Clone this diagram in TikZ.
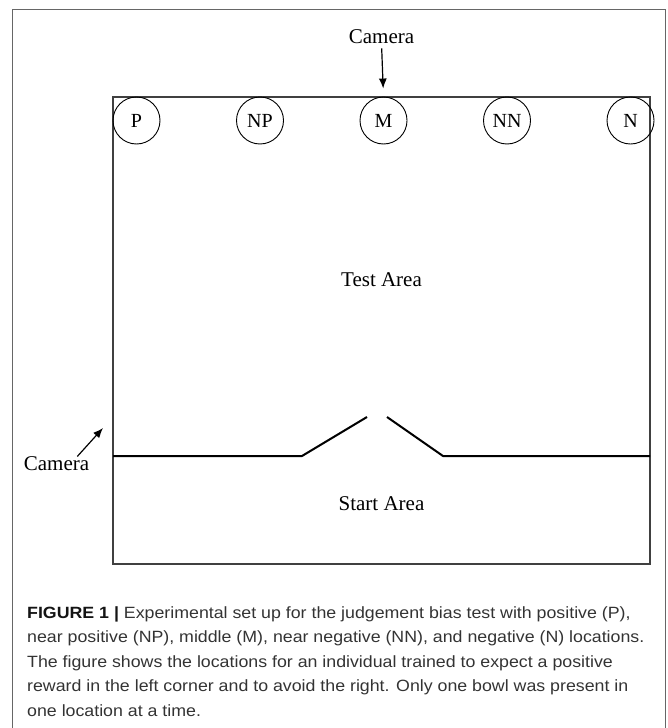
\documentclass[tikz,border=0pt]{standalone}
\usepackage{fontspec}
\setmainfont{Liberation Serif}
\newfontfamily\capfont[FakeStretch=1.09]{Liberation Sans}
\usetikzlibrary{positioning, arrows.meta}

\begin{document}
\begin{tikzpicture}[x=1pt, y=-1pt,
    bowl/.style={draw, circle, line width=0.9pt, minimum size=47pt, inner sep=0pt,
        font=\fontsize{20}{20}\selectfont},
    areatext/.style={inner sep=0pt, font=\fontsize{21}{21}\selectfont},
    wall/.style={draw=black!75, line width=1.2pt},
    divider/.style={line width=2pt, line join=round},
    camarrow/.style={-{Latex[length=10pt, width=8pt]}, line width=1.2pt}]
    \useasboundingbox (0,0) rectangle (667,728);

    % Outer frame of the figure
    \draw[black!60, line width=1.3pt] (12.5,728) -- (12.5,9.5) -- (665.5,9.5) -- (665.5,728);

    % The arena
    \draw[wall] (113,97) rectangle (650,564);

    % Bowl locations along the far wall
    \node[bowl] (P) at (136.5,120.5) {P};
    \node[bowl, right=75.6pt of P] (NP) {NP};
    \node[bowl, right=75.6pt of NP] (M) {M};
    \node[bowl, right=75.6pt of M] (NN) {NN};
    \node[bowl, right=75.6pt of NN] (N) {N};

    % Start box with its door
    \draw[divider] (113,456) -- (302,456) -- (367,417);
    \draw[divider] (387,417) -- (443,456) -- (650,456);

    % Area labels
    \node[areatext, anchor=base] (test) at (381.5,286.5) {Test Area};
    \node[areatext, anchor=base] (start) at (381.5,510) {Start Area};

    % Cameras
    \node[areatext, anchor=base] (camtop) at (381.5,43) {Camera};
    \draw[camarrow, shorten <=5pt, shorten >=8pt] (camtop.south) -- (M.north);
    \node[areatext, anchor=base] (camleft) at (56.5,470.5) {Camera};
    \coordinate (camaim) at (103,428);
    \draw[camarrow] ([xshift=-12pt]camleft.north east) -- (camaim);

    % Caption (base = last line)
    \node[anchor=base west, align=left, inner sep=0pt, text=black!80,
        font=\capfont\fontsize{16.3}{24.5}\selectfont] (caption) at (27,716)
        {{\color{black!92}\bfseries FIGURE 1 |} Experimental set up for the judgement bias test with positive (P),\\
        near positive (NP), middle (M), near negative (NN), and negative (N) locations.\\
        The figure shows the locations for an individual trained to expect a positive\\
        reward in the left corner and to avoid the right. Only one bowl was present in\\
        one location at a time.};
\end{tikzpicture}
\end{document}
